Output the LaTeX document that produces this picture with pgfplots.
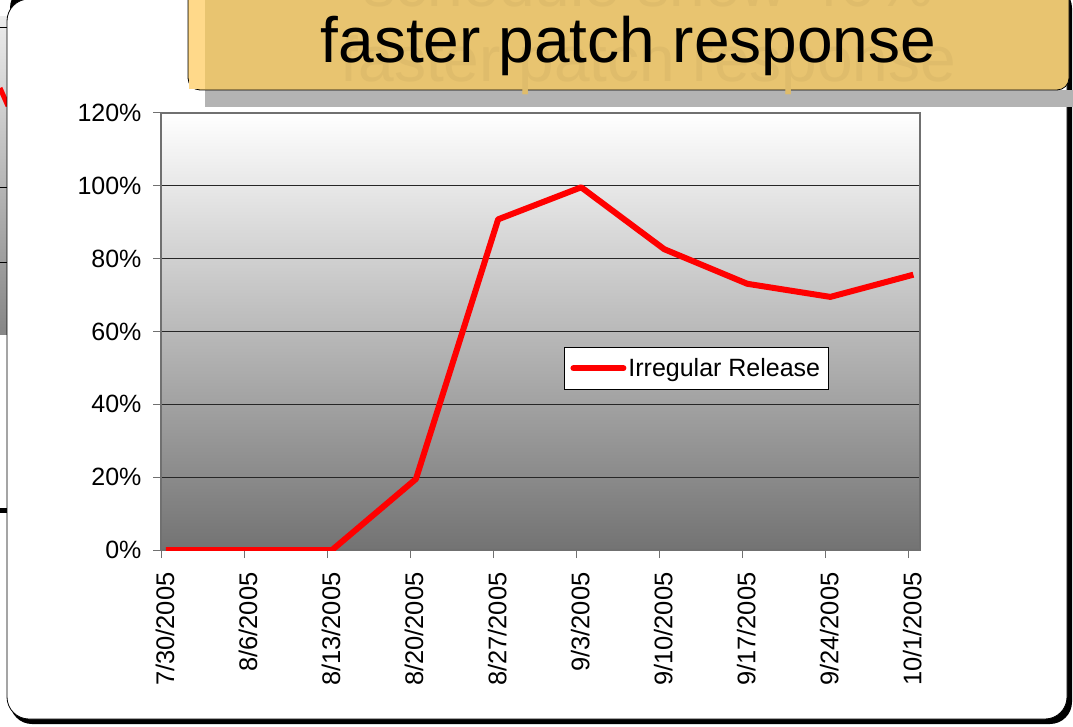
\documentclass[border=0pt]{standalone}
\usepackage{pgfplots}
\pgfplotsset{compat=1.18}
\usepackage{fontspec}
\setmainfont{Liberation Sans}
\definecolor{gold}{HTML}{E8C470}
\definecolor{goldlight}{HTML}{FFD98A}
\definecolor{ghost}{HTML}{DFBC6B}
\definecolor{shadowgray}{HTML}{B3B3B3}
\definecolor{axisgray}{HTML}{707070}

\begin{document}
\begin{tikzpicture}[x=1pt,y=1pt]
\useasboundingbox (0,0) rectangle (1073,726);
\clip (0,0) rectangle (1073,726);

% leftover of the previous slide, at the left edge
\shade[top color=gray!15, bottom color=gray!95] (0,391) rectangle (8,709);
\draw[black, line width=0.6pt] (0,699) -- (8,699) (0,539) -- (8,539) (0,464) -- (8,464);
\draw[red, line width=5pt] (0,638) -- (8,620);
\fill[black] (0,213) rectangle (8,218);

% white panel with its dark shadow
\fill[black, rounded corners=22pt] (10,2) rectangle (1072,740);
\filldraw[fill=white, draw=black, line width=0.8pt, rounded corners=22pt] (7,7) rectangle (1067,727);

\begin{axis}[
    at={(161pt,176pt)}, anchor=south west,
    scale only axis,
    width=759pt, height=437pt,
    xmin=0, xmax=9.14,
    ymin=0, ymax=120,
    xtick={0,1,2,3,4,5,6,7,8,9},
    xticklabels={7/30/2005,8/6/2005,8/13/2005,8/20/2005,8/27/2005,9/3/2005,9/10/2005,9/17/2005,9/24/2005,10/1/2005},
    ytick={0,20,40,60,80,100,120},
    yticklabels={0\%,20\%,40\%,60\%,80\%,100\%,120\%},
    tick align=outside,
    major tick length=8pt,
    xtick pos=bottom, ytick pos=left,
    tick style={axisgray, line width=1pt},
    axis line style={axisgray, line width=1.5pt},
    ymajorgrids=true,
    grid style={black!85, line width=0.8pt},
    axis background/.style={top color=white, bottom color=black!55},
    yticklabel style={font=\fontsize{25}{29}\selectfont, xshift=-8pt},
    xticklabel style={font=\fontsize{25.5}{29}\selectfont, rotate=90, anchor=east, yshift=-4pt},
    xticklabel shift=11pt,
    legend style={at={(0.531,0.4645)}, anchor=north west, draw=black, fill=white,
        line width=0.8pt, font=\fontsize{25}{29}\selectfont, inner xsep=6pt, inner ysep=9pt},
    legend image code/.code={\draw[red, line width=6pt, line cap=round] (0pt,0pt) -- (50pt,0pt);},
]
\addplot[red, line width=6pt, line join=round] coordinates {
    (0.06,0) (1.06,0) (2.06,0) (3.07,19.5) (4.06,90.8)
    (5.06,99.6) (6.06,82.6) (7.06,73.1) (8.06,69.5) (9.06,75.6)
};
\addlegendentry{Irregular Release}
\end{axis}

% title box
\fill[shadowgray] (205,619) rectangle (1073,636);
\filldraw[fill=gold, draw=black, line width=0.8pt, rounded corners=12pt] (188,636) -- (188,760) -- (1069,760) -- (1069,636) -- cycle;
\fill[goldlight] (188.5,636.5) rectangle (205,740);
\node[anchor=base, text=ghost, font=\fontsize{64}{70}\selectfont, inner sep=0pt] at (648.5,719) {schedule show 40\%};
\node[anchor=base, text=ghost, font=\fontsize{64}{70}\selectfont, inner sep=0pt] at (648.5,644) {faster patch response};
\node[anchor=base, text=black, font=\fontsize{64}{70}\selectfont, inner sep=0pt] at (628.5,663) {faster patch response};
\end{tikzpicture}
\end{document}
